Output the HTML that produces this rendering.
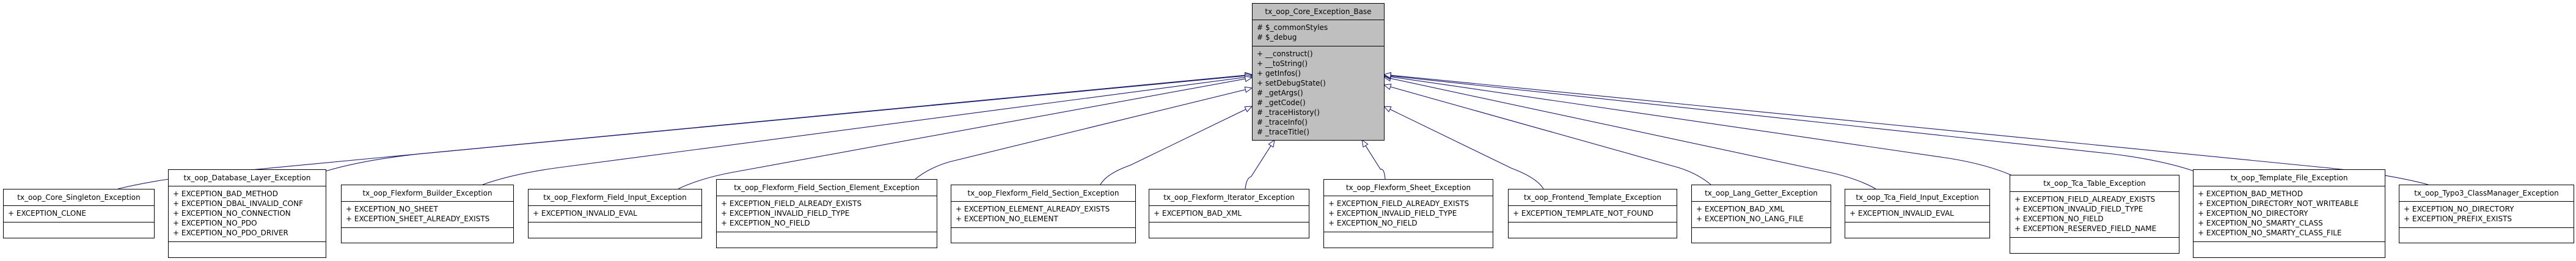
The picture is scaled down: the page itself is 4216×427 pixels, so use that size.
<!DOCTYPE html>
<html><head><meta charset="utf-8">
<style>
html,body{margin:0;padding:0;background:#fff;}
body{width:4216px;height:427px;position:relative;overflow:hidden;font-family:"DejaVu Sans","Liberation Sans",sans-serif;font-size:12px;color:#000;}
.b{position:absolute;border:1px solid #000;background:#fff;box-sizing:border-box;}
.b.g{background:#bfbfbf;}
.t{height:27px;line-height:26px;text-align:center;border-bottom:1px solid #000;box-sizing:border-box;white-space:nowrap;}
.a{border-bottom:1px solid #000;box-sizing:border-box;padding:4px 0 0 7px;line-height:16px;white-space:pre;}
svg{position:absolute;left:0;top:0;}
</style></head><body>
<svg id="s" width="4216" height="427"></svg>

<div class="b g" style="left:2049px;top:5px;width:217px;height:225px;">
<div class="t">tx_oop_Core_Exception_Base</div>
<div class="a" style="height:43px"># $_commonStyles
# $_debug</div>
<div class="a" style="border:none">+ __construct()
+ __toString()
+ getInfos()
+ setDebugState()
# _getArgs()
# _getCode()
# _traceHistory()
# _traceInfo()
# _traceTitle()</div>
</div>
<div class="b" style="left:5px;top:309px;width:248px;height:81px;"><div class="t">tx_oop_Core_Singleton_Exception</div><div class="a" style="height:27px">+ EXCEPTION_CLONE</div></div>
<div class="b" style="left:275px;top:277px;width:259px;height:145px;"><div class="t">tx_oop_Database_Layer_Exception</div><div class="a" style="height:91px">+ EXCEPTION_BAD_METHOD
+ EXCEPTION_DBAL_INVALID_CONF
+ EXCEPTION_NO_CONNECTION
+ EXCEPTION_NO_PDO
+ EXCEPTION_NO_PDO_DRIVER</div></div>
<div class="b" style="left:558px;top:302px;width:283px;height:96px;"><div class="t">tx_oop_Flexform_Builder_Exception</div><div class="a" style="height:43px">+ EXCEPTION_NO_SHEET
+ EXCEPTION_SHEET_ALREADY_EXISTS</div></div>
<div class="b" style="left:864px;top:309px;width:285px;height:81px;"><div class="t">tx_oop_Flexform_Field_Input_Exception</div><div class="a" style="height:27px">+ EXCEPTION_INVALID_EVAL</div></div>
<div class="b" style="left:1172px;top:293px;width:362px;height:113px;"><div class="t">tx_oop_Flexform_Field_Section_Element_Exception</div><div class="a" style="height:59px">+ EXCEPTION_FIELD_ALREADY_EXISTS
+ EXCEPTION_INVALID_FIELD_TYPE
+ EXCEPTION_NO_FIELD</div></div>
<div class="b" style="left:1556px;top:302px;width:303px;height:96px;"><div class="t">tx_oop_Flexform_Field_Section_Exception</div><div class="a" style="height:43px">+ EXCEPTION_ELEMENT_ALREADY_EXISTS
+ EXCEPTION_NO_ELEMENT</div></div>
<div class="b" style="left:1880px;top:309px;width:263px;height:81px;"><div class="t">tx_oop_Flexform_Iterator_Exception</div><div class="a" style="height:27px">+ EXCEPTION_BAD_XML</div></div>
<div class="b" style="left:2166px;top:293px;width:278px;height:113px;"><div class="t">tx_oop_Flexform_Sheet_Exception</div><div class="a" style="height:59px">+ EXCEPTION_FIELD_ALREADY_EXISTS
+ EXCEPTION_INVALID_FIELD_TYPE
+ EXCEPTION_NO_FIELD</div></div>
<div class="b" style="left:2468px;top:309px;width:277px;height:81px;"><div class="t">tx_oop_Frontend_Template_Exception</div><div class="a" style="height:27px">+ EXCEPTION_TEMPLATE_NOT_FOUND</div></div>
<div class="b" style="left:2768px;top:302px;width:229px;height:96px;"><div class="t">tx_oop_Lang_Getter_Exception</div><div class="a" style="height:43px">+ EXCEPTION_BAD_XML
+ EXCEPTION_NO_LANG_FILE</div></div>
<div class="b" style="left:3019px;top:309px;width:238px;height:81px;"><div class="t">tx_oop_Tca_Field_Input_Exception</div><div class="a" style="height:27px">+ EXCEPTION_INVALID_EVAL</div></div>
<div class="b" style="left:3289px;top:286px;width:278px;height:129px;"><div class="t">tx_oop_Tca_Table_Exception</div><div class="a" style="height:75px">+ EXCEPTION_FIELD_ALREADY_EXISTS
+ EXCEPTION_INVALID_FIELD_TYPE
+ EXCEPTION_NO_FIELD
+ EXCEPTION_RESERVED_FIELD_NAME</div></div>
<div class="b" style="left:3589px;top:277px;width:315px;height:145px;"><div class="t">tx_oop_Template_File_Exception</div><div class="a" style="height:91px">+ EXCEPTION_BAD_METHOD
+ EXCEPTION_DIRECTORY_NOT_WRITEABLE
+ EXCEPTION_NO_DIRECTORY
+ EXCEPTION_NO_SMARTY_CLASS
+ EXCEPTION_NO_SMARTY_CLASS_FILE</div></div>
<div class="b" style="left:3926px;top:302px;width:287px;height:96px;"><div class="t">tx_oop_Typo3_ClassManager_Exception</div><div class="a" style="height:43px">+ EXCEPTION_NO_DIRECTORY
+ EXCEPTION_PREFIX_EXISTS</div></div>

<script>
var C=[
[193,309,2049,122],[533,280,2049,123],[790,302,2049,125],[1110,309,2049,127],[1498,293,2049,144],[1801,302,2049,174],[2038,309,2086,229],
[2267,293,2229,229],[2526,309,2265,174],[2800,302,2265,139],[3070,309,2265,126],[3293,287,2265,124],[3591,280,2265,123],[3974,302,2265,122]];
var s='';
C.forEach(function(c){
 var sx=c[0],sy=c[1],ex=c[2],ey=c[3],dx=ex-sx;
 var mx=sx+dx*0.1,my=sy-28;
 if(Math.abs(dx)<300){mx=sx+dx*0.2;my=sy-(sy-ey)*0.25;}
 var ux=ex-mx,uy=ey-my,L=Math.sqrt(ux*ux+uy*uy);ux/=L;uy/=L;
 var bx=ex-ux*11,by=ey-uy*11,px=-uy*4.5,py=ux*4.5;
 s+='<path d="M'+sx+','+sy+' Q'+(sx+dx*0.04)+','+(sy-18)+' '+mx+','+my+' L'+bx+','+by+'" fill="none" stroke="#191970" stroke-width="1.1"/>';
 s+='<polygon points="'+ex+','+ey+' '+(bx+px)+','+(by+py)+' '+(bx-px)+','+(by-py)+'" fill="#fff" stroke="#191970" stroke-width="1"/>';
});
document.getElementById('s').innerHTML=s;
</script>
</body></html>
